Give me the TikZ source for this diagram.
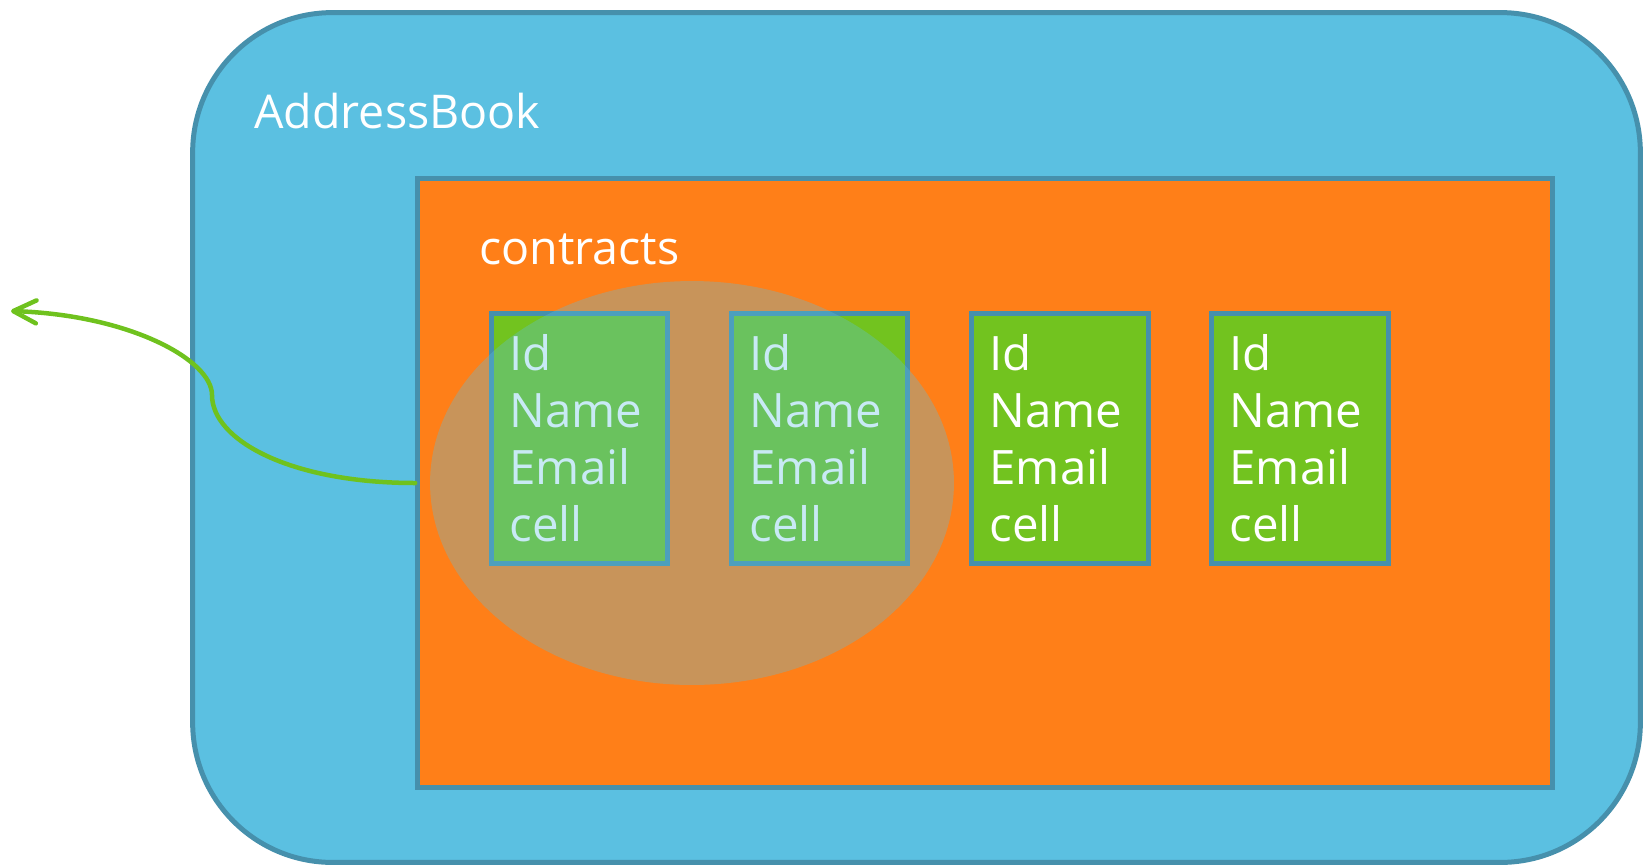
\documentclass[tikz,border=0pt]{standalone}
\usepackage{fontspec}
\setmainfont{Open Sans}
\usetikzlibrary{arrows.meta,shapes.geometric}

\definecolor{bookblue}{RGB}{91,192,225}
\definecolor{edgeblue}{RGB}{70,144,172}
\definecolor{listorange}{RGB}{255,127,24}
\definecolor{cellgreen}{RGB}{114,195,31}
\definecolor{linkgreen}{RGB}{111,194,30}

\begin{document}
\begin{tikzpicture}[x=0.02cm,y=-0.02cm]
\tikzset{frame/.style = {draw=edgeblue, line width=0.1cm}}
\tikzset{caption/.style = {anchor=base west, text=white, inner sep=0pt, font=\fontsize{26.5}{32}\selectfont}}
\tikzset{record/.style = {frame, fill=cellgreen, text=white, minimum width=3.54cm, minimum height=5.02cm,
  inner xsep=0.35cm, text width=2.8cm, align=left, font=\fontsize{27}{32.4}\selectfont}}
\tikzset{edge/.style = {-{Straight Barb[length=0.46cm,width=0.46cm,round]}, draw=linkgreen, line width=0.09cm, line cap=round}}
\useasboundingbox (0,0) rectangle (1645,866);
% containers
\node[frame, fill=bookblue, rounded corners=2.8cm, minimum width=28.96cm, minimum height=17.0cm] (book) at (916.5,437.5) {};
\node[frame, fill=listorange, minimum width=22.7cm, minimum height=12.18cm] (list) at (985,483) {};
\node[caption] (booklabel) at (254,128) {AddressBook};
\node[caption] (listlabel) at (479,264) {contracts};
% records
\foreach \i/\x in {1/579.5, 2/819.5, 3/1059.5, 4/1299.5}
  \node[record] (c\i) at (\x,438.5) {Id\\Name\\Email\\cell};
% selection
\node[ellipse, fill=bookblue, fill opacity=0.33, minimum width=10.48cm, minimum height=8.08cm] (sel) at (692,483) {};
% edges
\coordinate (out) at (11,311);
\draw[edge] (list.west) .. controls (290,483) and (212,440) .. (212,395)
  .. controls (212,360) and (130,315) .. (out);
\end{tikzpicture}
\end{document}
